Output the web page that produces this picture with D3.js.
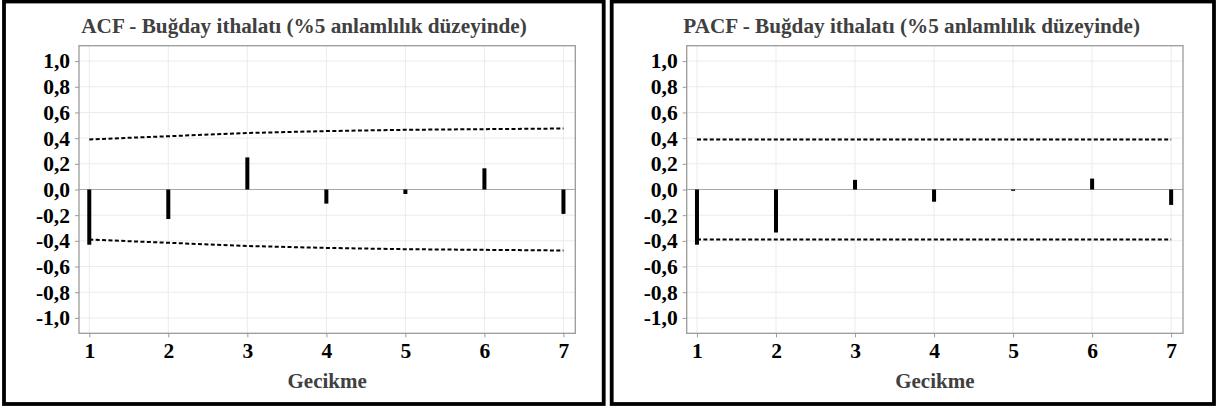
<!DOCTYPE html>
<html>
<head>
<meta charset="utf-8">
<script src="https://cdn.jsdelivr.net/npm/d3@7"></script>
<style>
  html, body { margin: 0; padding: 0; background: #fff; }
  svg { display: block; }
  text { font-family: "Liberation Serif", "Times New Roman", serif; font-weight: bold; }
</style>
</head>
<body>
<svg id="chart" width="1220" height="414"></svg>
<script>
// Lags shown on the x axis
const lags = [1, 2, 3, 4, 5, 6, 7];

// Autocorrelation coefficients and their 95% limits
const acfValues = [-0.43, -0.23, 0.25, -0.11, -0.035, 0.165, -0.19];
const acfLimits = [0.39, 0.415, 0.44, 0.455, 0.465, 0.47, 0.475];

// Partial autocorrelation coefficients and their 95% limits
const pacfValues = [-0.43, -0.335, 0.075, -0.095, -0.01, 0.085, -0.12];
const pacfLimits = [0.39, 0.39, 0.39, 0.39, 0.39, 0.39, 0.39];

// Axis ticks
const yTicks = [-1.0, -0.8, -0.6, -0.4, -0.2, 0.0, 0.2, 0.4, 0.6, 0.8, 1.0];
const xTicks = lags;

const titles = [
  "ACF - Buğday ithalatı (%5 anlamlılık düzeyinde)",
  "PACF - Buğday ithalatı (%5 anlamlılık düzeyinde)"
];
const xTitle = "Gecikme";

const svg = d3.select("#chart");
const fmt = v => d3.format(".1f")(v).replace(".", ",").replace("−", "-");

function drawPanel(offsetX, frameRight, title, values, limits) {
  const g = svg.append("g").attr("transform", `translate(${offsetX},0)`);

  // outer frame
  g.append("rect")
    .attr("x", 4).attr("y", 1.5)
    .attr("width", frameRight - 4).attr("height", 402.5)
    .attr("fill", "none").attr("stroke", "#000").attr("stroke-width", 3.8);

  const left = 79, right = 575.3, top = 45.7, bottom = 333.3;
  const x = d3.scaleLinear().domain([0.87, 7.15]).range([left, right]);
  const y = d3.scaleLinear().domain([-1.12, 1.12]).range([bottom, top]);

  // grid
  g.append("g").selectAll("line").data(yTicks).join("line")
    .attr("x1", left).attr("x2", right)
    .attr("y1", d => y(d)).attr("y2", d => y(d))
    .attr("stroke", "#ebebeb").attr("stroke-width", 1);
  g.append("g").selectAll("line").data(xTicks).join("line")
    .attr("x1", d => x(d)).attr("x2", d => x(d))
    .attr("y1", top).attr("y2", bottom)
    .attr("stroke", "#ebebeb").attr("stroke-width", 1);

  // zero reference line
  g.append("line")
    .attr("x1", left).attr("x2", right)
    .attr("y1", y(0)).attr("y2", y(0))
    .attr("stroke", "#a8a8a8").attr("stroke-width", 1.2);

  // confidence limits
  const line = d3.line().x((d, i) => x(lags[i])).y(d => y(d));
  g.append("path").datum(limits)
    .attr("d", line)
    .attr("fill", "none").attr("stroke", "#000")
    .attr("stroke-width", 2).attr("stroke-dasharray", "4,2.4");
  g.append("path").datum(limits.map(v => -v))
    .attr("d", line)
    .attr("fill", "none").attr("stroke", "#000")
    .attr("stroke-width", 2).attr("stroke-dasharray", "4,2.4");

  // coefficient spikes
  g.append("g").selectAll("rect").data(values).join("rect")
    .attr("x", (d, i) => x(lags[i]) - 2)
    .attr("width", 4)
    .attr("y", d => Math.min(y(0), y(d)))
    .attr("height", d => Math.abs(y(d) - y(0)))
    .attr("fill", "#000");

  // panel border
  g.append("rect")
    .attr("x", left).attr("y", top)
    .attr("width", right - left).attr("height", bottom - top)
    .attr("fill", "none").attr("stroke", "#9a9a9a").attr("stroke-width", 1.3);

  // y axis
  const yAxis = d3.axisLeft(y).tickValues(yTicks).tickSize(4).tickPadding(5).tickFormat(fmt);
  const ya = g.append("g").attr("transform", `translate(${left},0)`).call(yAxis);
  ya.select(".domain").remove();
  ya.selectAll(".tick line").attr("stroke", "#9a9a9a");
  ya.selectAll(".tick text")
    .attr("fill", "#000").attr("font-size", 21.5)
    .attr("font-family", "Liberation Serif").attr("font-weight", "bold");

  // x axis
  const xAxis = d3.axisBottom(x).tickValues(xTicks).tickSize(4).tickPadding(5).tickFormat(d3.format("d"));
  const xa = g.append("g").attr("transform", `translate(0,${bottom})`).call(xAxis);
  xa.select(".domain").remove();
  xa.selectAll(".tick line").attr("stroke", "#9a9a9a");
  xa.selectAll(".tick text")
    .attr("fill", "#000").attr("font-size", 21.5)
    .attr("font-family", "Liberation Serif").attr("font-weight", "bold");

  // titles
  g.append("text")
    .attr("x", 304).attr("y", 33)
    .attr("text-anchor", "middle")
    .attr("font-size", 21.2).attr("fill", "#404040")
    .text(title);
  g.append("text")
    .attr("x", (left + right) / 2).attr("y", 388)
    .attr("text-anchor", "middle")
    .attr("font-size", 21).attr("fill", "#404040")
    .text(xTitle);
}

drawPanel(0, 603.7, titles[0], acfValues, acfLimits);
drawPanel(607.7, 606.3, titles[1], pacfValues, pacfLimits);
</script>
</body>
</html>
